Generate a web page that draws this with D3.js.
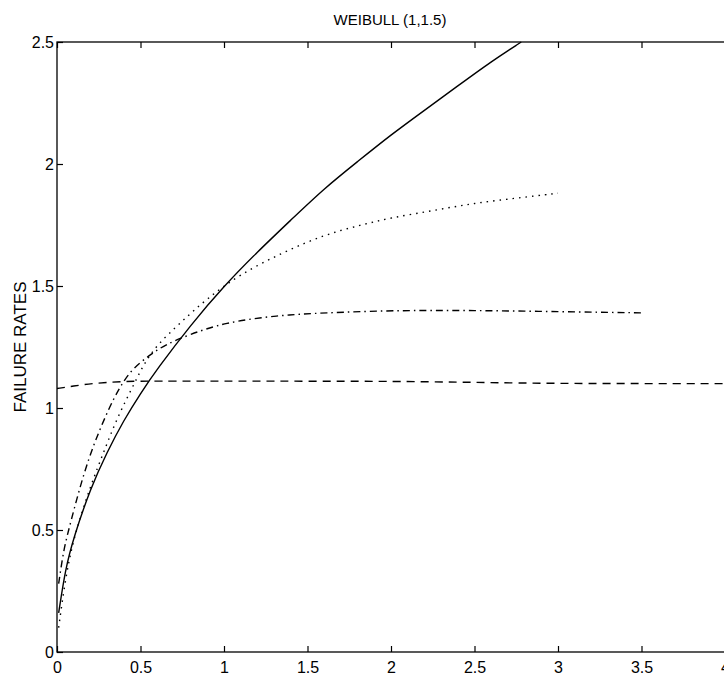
<!DOCTYPE html>
<html>
<head>
<meta charset="utf-8">
<script src="https://cdn.jsdelivr.net/npm/d3@7"></script>
<style>
  body { margin: 0; background: #fff; }
  text { font-family: "Liberation Sans", Arial, sans-serif; fill: #000; }
</style>
</head>
<body>
<div id="chart"></div>
<script>
// failure rate curves, [t, rate]
const solid = [[0.01,0.16],[0.05,0.34],[0.1,0.47],[0.2,0.67],[0.3,0.82],[0.4,0.95],[0.5,1.06],
  [0.6,1.16],[0.8,1.34],[1.0,1.5],[1.2,1.64],[1.4,1.77],[1.6,1.9],[1.8,2.01],[2.0,2.12],
  [2.2,2.22],[2.4,2.32],[2.6,2.42],[2.78,2.5]];
const dotted = [[0.01,0.1],[0.05,0.3],[0.1,0.47],[0.2,0.68],[0.28,0.82],[0.36,0.96],[0.47,1.11],
  [0.52,1.18],[0.6,1.26],[0.74,1.35],[0.9,1.45],[1.1,1.55],[1.36,1.64],[1.6,1.71],[1.82,1.75],
  [2.0,1.78],[2.26,1.81],[2.5,1.84],[2.75,1.86],[3.0,1.88]];
const dashdot = [[0.01,0.28],[0.04,0.42],[0.07,0.5],[0.1,0.58],[0.16,0.73],[0.22,0.85],[0.28,0.95],
  [0.34,1.04],[0.39,1.1],[0.45,1.16],[0.56,1.22],[0.65,1.26],[0.79,1.3],[1.0,1.35],[1.32,1.38],
  [1.6,1.39],[2.0,1.4],[2.5,1.4],[3.0,1.395],[3.5,1.39]];
const dashed = [[0.0,1.08],[0.1,1.09],[0.2,1.1],[0.4,1.11],[0.6,1.11],[1.0,1.11],[2.0,1.11],
  [2.5,1.105],[3.0,1.1],[4.0,1.1]];

const xTicks = [0, 0.5, 1, 1.5, 2, 2.5, 3, 3.5, 4];
const yTicks = [0, 0.5, 1, 1.5, 2, 2.5];

const width = 724, height = 684;
const svg = d3.select("#chart").append("svg")
  .attr("width", width).attr("height", height);

const x = d3.scaleLinear().domain([0, 4]).range([57, 725]);
const y = d3.scaleLinear().domain([0, 2.5]).range([652, 42]);

// frame
svg.append("rect")
  .attr("x", x(0)).attr("y", y(2.5))
  .attr("width", x(4) - x(0)).attr("height", y(0) - y(2.5))
  .attr("fill", "none").attr("stroke", "#000").attr("stroke-width", 1.3);

const fmt = d => String(d);

svg.append("g").attr("transform", `translate(0,${y(0)})`)
  .call(d3.axisBottom(x).tickValues(xTicks).tickFormat(fmt).tickSizeInner(-6).tickSizeOuter(0).tickPadding(10))
  .call(g => g.select(".domain").remove());
svg.append("g").attr("transform", `translate(0,${y(2.5)})`)
  .call(d3.axisTop(x).tickValues(xTicks).tickFormat("").tickSizeInner(-6).tickSizeOuter(0))
  .call(g => g.select(".domain").remove());
svg.append("g").attr("transform", `translate(${x(0)},0)`)
  .call(d3.axisLeft(y).tickValues(yTicks).tickFormat(fmt).tickSizeInner(-6).tickSizeOuter(0).tickPadding(3))
  .call(g => g.select(".domain").remove());

svg.selectAll(".tick line").attr("stroke", "#000").attr("stroke-width", 1.2);
svg.selectAll(".tick text").style("font-size", "16px")
  .style("font-family", "'Liberation Sans', Arial, sans-serif").attr("fill", "#000");

const line = d3.line().x(d => x(d[0])).y(d => y(d[1])).curve(d3.curveBasis);

const series = [
  { data: solid, dash: null },
  { data: dotted, dash: "1.5,5" },
  { data: dashdot, dash: "7,4,1.5,4" },
  { data: dashed, dash: "8,6" }
];
svg.selectAll("path.curve").data(series).join("path")
  .attr("class", "curve")
  .attr("d", d => line(d.data))
  .attr("fill", "none").attr("stroke", "#000").attr("stroke-width", 1.4)
  .attr("stroke-dasharray", d => d.dash);

svg.append("text")
  .attr("x", 390).attr("y", 25).attr("text-anchor", "middle")
  .style("font-size", "15px").text("WEIBULL (1,1.5)");

svg.append("text")
  .attr("transform", `translate(26,${(y(0) + y(2.5)) / 2}) rotate(-90)`)
  .attr("text-anchor", "middle")
  .style("font-size", "17px").text("FAILURE RATES");
</script>
</body>
</html>
